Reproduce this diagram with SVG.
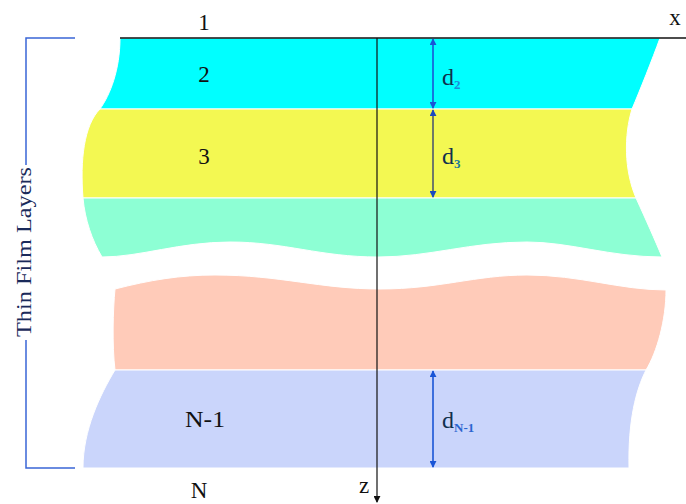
<svg xmlns="http://www.w3.org/2000/svg" width="686" height="504" viewBox="0 0 686 504">
<style>
.lbl{font-family:"Liberation Serif","Times New Roman",serif;font-size:23px;fill:#111;text-anchor:middle}
.d{font-family:"Liberation Serif","Times New Roman",serif;font-size:24px;fill:#10304e}
.sub{font-family:"Liberation Serif","Times New Roman",serif;font-size:13px;font-weight:bold}
.layer{stroke:#ffffff;stroke-width:1}
</style>
<defs>
<marker id="ahb" viewBox="0 0 8 8" refX="7" refY="4" markerWidth="7" markerHeight="7" markerUnits="userSpaceOnUse" orient="auto-start-reverse"><path d="M0,0 L8,4 L0,8 Z" fill="#1a55d6"/></marker>
<marker id="ahg" viewBox="0 0 8 8" refX="7" refY="4" markerWidth="7" markerHeight="7" markerUnits="userSpaceOnUse" orient="auto-start-reverse"><path d="M0,0 L8,4 L0,8 Z" fill="#1a4ac0"/></marker>
<marker id="ahk" viewBox="0 0 8 8" refX="7" refY="4" markerWidth="7" markerHeight="7" markerUnits="userSpaceOnUse" orient="auto"><path d="M0,0 L8,4 L0,8 Z" fill="#111"/></marker>
</defs>
<g id="layer2">
<path class="layer" fill="#00ffff" d="M120,38 L660,38 C652,60 640,90 632,109 L100,109 C110,95 120,70 120,38 Z"/>
<text class="lbl" x="204" y="82">2</text>
</g>
<g id="layer3">
<path class="layer" fill="#f3f852" d="M100,109 L632,109 C624,135 624,170 636,198 L83,198 C80,160 84,125 100,109 Z"/>
<text class="lbl" x="204" y="164">3</text>
</g>
<g id="layer4">
<path class="layer" fill="#8dffd4" d="M83,198 L636,198 C646,220 655,240 662,257 C610,257 570,242 527,242 C470,242 430,257 378,257 C320,257 285,242 230,242 C180,242 140,257 102,257 C92,240 85,220 83,198 Z"/>
</g>
<g id="layer5">
<path class="layer" fill="#ffcbb9" d="M115,289 C150,280 180,275 215,275 C280,275 320,289 380,289 C440,289 475,275 527,275 C580,275 620,290 666,290 C666,320 657,352 646,370 L115,370 C112,345 113,310 115,289 Z"/>
</g>
<g id="layerN-1">
<path class="layer" fill="#cad5fb" d="M115,370 L646,370 C636,390 628,420 629,468 L83,468 C83,430 100,395 115,370 Z"/>
<text class="lbl" x="205" y="427" textLength="40" lengthAdjust="spacingAndGlyphs">N-1</text>
</g>
<g id="medium1">
<text class="lbl" x="204" y="30">1</text>
</g>
<g id="mediumN">
<text class="lbl" x="199" y="498">N</text>
</g>
<g id="bracket">
<path d="M75,38 H26 V165 M26,340 V468 H75" fill="none" stroke="#3a66d6" stroke-width="1.5"/>
<text font-family="'Liberation Serif','Times New Roman',serif" font-size="21" fill="#1a2a5a" text-anchor="middle" transform="translate(31,252) rotate(-90)" textLength="170" lengthAdjust="spacingAndGlyphs">Thin Film Layers</text>
</g>
<g id="connectors">
<line x1="120" y1="38" x2="686" y2="38" stroke="#111" stroke-width="1.5"/>
<line x1="377" y1="38" x2="377" y2="502" stroke="#111" stroke-width="1.2" marker-end="url(#ahk)"/>
<line x1="433" y1="39" x2="433" y2="108" stroke="#1a55d6" stroke-width="1.6" marker-start="url(#ahb)" marker-end="url(#ahb)"/>
<line x1="433" y1="110" x2="433" y2="197" stroke="#4e5a6c" stroke-width="1.6" marker-start="url(#ahg)" marker-end="url(#ahg)"/>
<line x1="433" y1="371" x2="433" y2="467" stroke="#1a55d6" stroke-width="1.6" marker-start="url(#ahb)" marker-end="url(#ahb)"/>
</g>
<g id="axis-labels">
<text class="lbl" x="675" y="25">x</text>
<text class="lbl" x="364" y="493">z</text>
</g>
<g id="dims">
<text class="d" x="442" y="85">d<tspan class="sub" fill="#1e8ad8" dy="4">2</tspan></text>
<text class="d" x="442" y="164">d<tspan class="sub" fill="#1a7a9a" dy="4">3</tspan></text>
<text class="d" x="442" y="428">d<tspan class="sub" fill="#2a66d0" dy="4">N-1</tspan></text>
</g>
</svg>
